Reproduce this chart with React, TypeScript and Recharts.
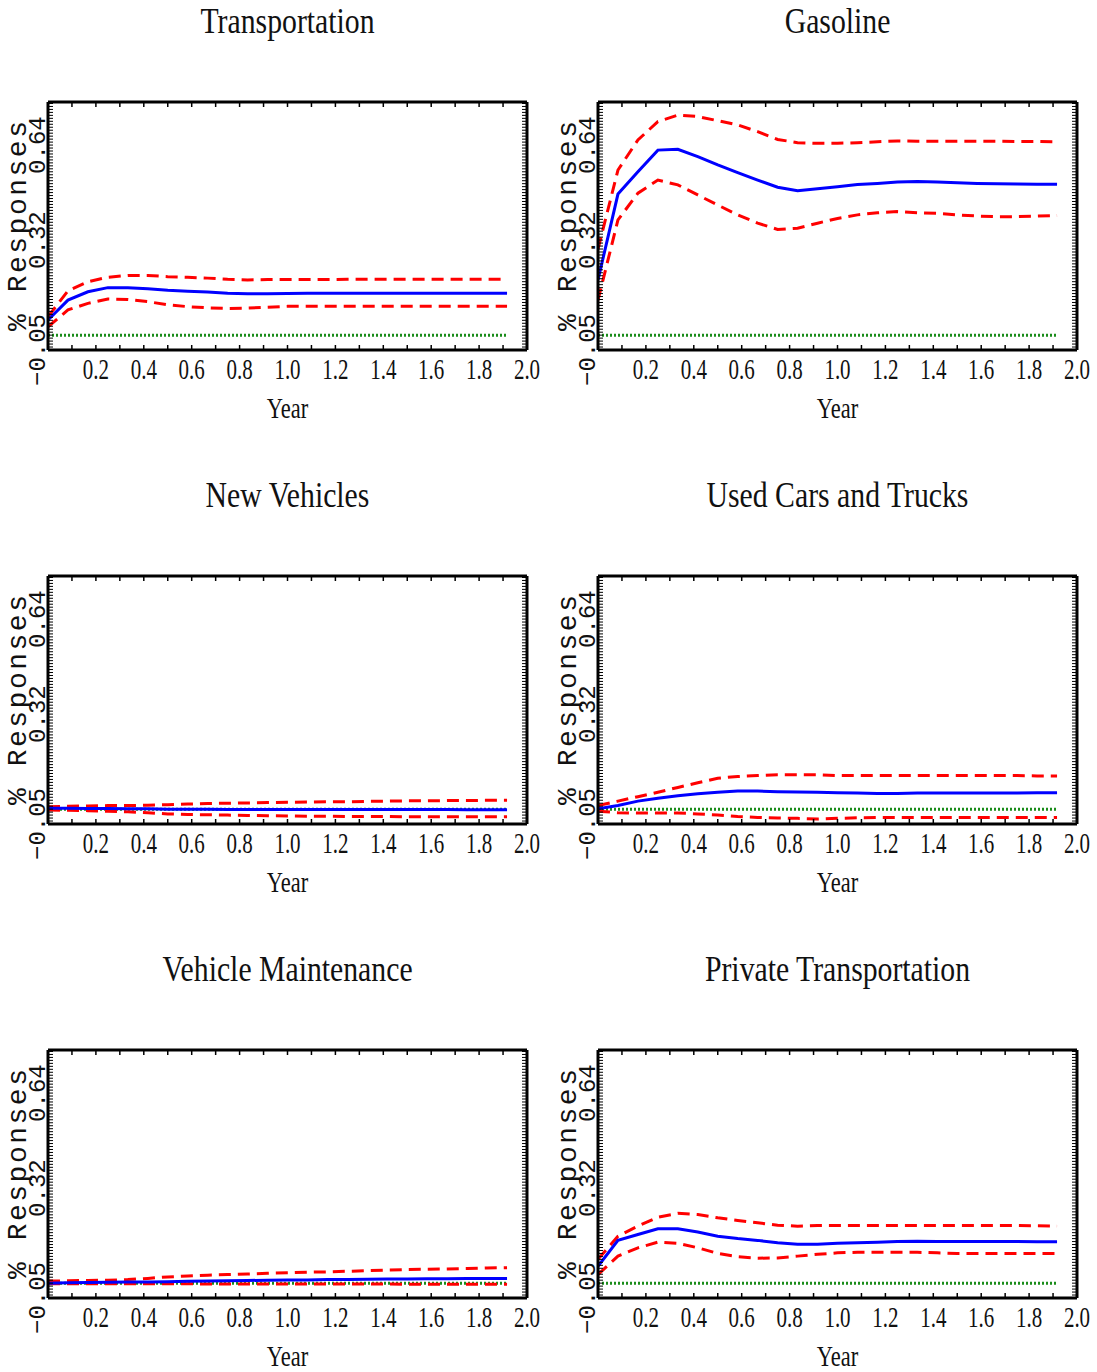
import React from "react";
import { LineChart, Line, XAxis, YAxis } from "recharts";

// months after the shock, plotted as years (m / 12)
const MONTHS = [0, 1, 2, 3, 4, 5, 6, 7, 8, 9, 10, 11, 12, 13, 14, 15, 16, 17, 18, 19, 20, 21, 22, 23];

const TRANSPORT_IRF = [0.051, 0.118, 0.146, 0.16, 0.16, 0.156, 0.151, 0.148, 0.145, 0.141, 0.139, 0.139, 0.14, 0.141, 0.141, 0.141, 0.141, 0.141, 0.141, 0.141, 0.141, 0.141, 0.141, 0.141];
const TRANSPORT_UPPER = [0.062, 0.149, 0.18, 0.195, 0.201, 0.201, 0.197, 0.195, 0.192, 0.188, 0.186, 0.187, 0.187, 0.187, 0.187, 0.188, 0.188, 0.188, 0.188, 0.188, 0.188, 0.188, 0.188, 0.188];
const TRANSPORT_LOWER = [0.028, 0.085, 0.107, 0.122, 0.12, 0.113, 0.102, 0.096, 0.092, 0.09, 0.091, 0.094, 0.097, 0.097, 0.097, 0.097, 0.097, 0.097, 0.097, 0.097, 0.097, 0.097, 0.097, 0.097];

const GASOLINE_IRF = [0.186, 0.475, 0.55, 0.623, 0.626, 0.601, 0.573, 0.547, 0.522, 0.498, 0.486, 0.493, 0.5, 0.507, 0.511, 0.516, 0.517, 0.516, 0.513, 0.511, 0.51, 0.509, 0.508, 0.508];
const GASOLINE_UPPER = [0.29, 0.556, 0.657, 0.719, 0.741, 0.736, 0.722, 0.708, 0.685, 0.659, 0.648, 0.646, 0.646, 0.648, 0.651, 0.654, 0.653, 0.653, 0.653, 0.653, 0.653, 0.652, 0.652, 0.651];
const GASOLINE_LOWER = [0.118, 0.388, 0.478, 0.522, 0.506, 0.472, 0.438, 0.405, 0.377, 0.356, 0.36, 0.377, 0.393, 0.405, 0.412, 0.416, 0.412, 0.41, 0.405, 0.401, 0.399, 0.399, 0.401, 0.403];

const NEWVEH_IRF = [0.003, 0.003, 0.002, 0.002, 0.001, 0.001, 0.0, 0.0, 0.0, -0.001, -0.001, -0.001, -0.001, -0.001, -0.001, -0.001, -0.001, -0.001, -0.001, -0.001, -0.001, -0.002, -0.002, -0.002];
const NEWVEH_UPPER = [0.008, 0.01, 0.011, 0.012, 0.012, 0.013, 0.015, 0.017, 0.019, 0.02, 0.021, 0.022, 0.023, 0.024, 0.025, 0.025, 0.026, 0.027, 0.028, 0.028, 0.029, 0.029, 0.03, 0.03];
const NEWVEH_LOWER = [-0.003, -0.004, -0.005, -0.007, -0.009, -0.012, -0.016, -0.018, -0.019, -0.02, -0.021, -0.022, -0.023, -0.024, -0.024, -0.025, -0.025, -0.025, -0.026, -0.026, -0.026, -0.026, -0.026, -0.026];

const USED_IRF = [0.001, 0.012, 0.027, 0.037, 0.045, 0.052, 0.057, 0.061, 0.061, 0.059, 0.058, 0.057, 0.055, 0.054, 0.053, 0.053, 0.054, 0.054, 0.054, 0.054, 0.054, 0.054, 0.055, 0.055];
const USED_UPPER = [0.012, 0.027, 0.042, 0.057, 0.073, 0.089, 0.104, 0.11, 0.113, 0.116, 0.116, 0.116, 0.113, 0.113, 0.113, 0.113, 0.113, 0.113, 0.113, 0.113, 0.113, 0.113, 0.112, 0.112];
const USED_LOWER = [-0.007, -0.012, -0.013, -0.013, -0.013, -0.016, -0.02, -0.025, -0.028, -0.03, -0.031, -0.033, -0.031, -0.029, -0.028, -0.028, -0.028, -0.028, -0.028, -0.028, -0.028, -0.028, -0.028, -0.028];

const MAINT_IRF = [0.0, 0.001, 0.002, 0.003, 0.004, 0.004, 0.005, 0.006, 0.007, 0.008, 0.009, 0.01, 0.011, 0.011, 0.012, 0.012, 0.013, 0.014, 0.014, 0.015, 0.015, 0.016, 0.016, 0.016];
const MAINT_UPPER = [0.007, 0.008, 0.009, 0.01, 0.012, 0.016, 0.021, 0.024, 0.027, 0.029, 0.031, 0.033, 0.035, 0.037, 0.038, 0.04, 0.042, 0.044, 0.046, 0.047, 0.048, 0.049, 0.051, 0.052];
const MAINT_LOWER = [-0.002, -0.002, -0.002, -0.002, -0.002, -0.002, -0.002, -0.002, -0.003, -0.003, -0.003, -0.003, -0.003, -0.003, -0.003, -0.003, -0.003, -0.003, -0.004, -0.004, -0.004, -0.004, -0.004, -0.004];

const PRIVATE_IRF = [0.057, 0.144, 0.164, 0.183, 0.183, 0.172, 0.158, 0.15, 0.144, 0.136, 0.131, 0.131, 0.134, 0.136, 0.138, 0.14, 0.141, 0.14, 0.14, 0.14, 0.14, 0.14, 0.139, 0.139];
const PRIVATE_UPPER = [0.08, 0.158, 0.192, 0.222, 0.235, 0.231, 0.22, 0.211, 0.203, 0.195, 0.192, 0.194, 0.194, 0.194, 0.194, 0.194, 0.194, 0.194, 0.194, 0.194, 0.194, 0.194, 0.193, 0.192];
const PRIVATE_LOWER = [0.029, 0.091, 0.119, 0.138, 0.134, 0.119, 0.1, 0.089, 0.084, 0.085, 0.091, 0.097, 0.102, 0.104, 0.104, 0.104, 0.104, 0.102, 0.1, 0.1, 0.1, 0.1, 0.1, 0.1];

const X_TICKS = [0.2, 0.4, 0.6, 0.8, 1.0, 1.2, 1.4, 1.6, 1.8, 2.0];
const X_TICK_LABELS = ["0.2", "0.4", "0.6", "0.8", "1.0", "1.2", "1.4", "1.6", "1.8", "2.0"];
const X_MINOR = [0.1, 0.2, 0.3, 0.4, 0.5, 0.6, 0.7, 0.8, 0.9, 1.0, 1.1, 1.2, 1.3, 1.4, 1.5, 1.6, 1.7, 1.8, 1.9];
const Y_TICKS = [-0.05, 0.32, 0.64];
const Y_TICK_LABELS = ["\u22120.05", "0.32", "0.64"];
const Y_DOMAIN = [-0.05, 0.785];
const Y_MINOR = Array.from({ length: 83 }, (_, i) => Math.round((-0.04 + i * 0.01) * 1000) / 1000);

const SERIF = "'Liberation Serif', 'DejaVu Serif', serif";
const MONO = "'Liberation Mono', 'DejaVu Sans Mono', monospace";

const build = (irf: number[], upper: number[], lower: number[]) =>
  MONTHS.map((m, i) => ({ year: m / 12, irf: irf[i], upper: upper[i], lower: lower[i], zero: 0 }));

const PANELS = [
  { title: "Transportation", data: build(TRANSPORT_IRF, TRANSPORT_UPPER, TRANSPORT_LOWER), col: 0, row: 0 },
  { title: "Gasoline", data: build(GASOLINE_IRF, GASOLINE_UPPER, GASOLINE_LOWER), col: 1, row: 0 },
  { title: "New Vehicles", data: build(NEWVEH_IRF, NEWVEH_UPPER, NEWVEH_LOWER), col: 0, row: 1 },
  { title: "Used Cars and Trucks", data: build(USED_IRF, USED_UPPER, USED_LOWER), col: 1, row: 1 },
  { title: "Vehicle Maintenance", data: build(MAINT_IRF, MAINT_UPPER, MAINT_LOWER), col: 0, row: 2 },
  { title: "Private Transportation", data: build(PRIVATE_IRF, PRIVATE_UPPER, PRIVATE_LOWER), col: 1, row: 2 },
];

const EmptyTick = () => <g />;

const XTick = (props: any) => {
  const { x, y, payload } = props;
  const idx = X_TICKS.indexOf(payload.value);
  return (
    <text transform={`translate(${x},${y + 29}) scale(0.7,1)`} textAnchor="middle" fontFamily={SERIF} fontSize={30} fill="#111">
      {X_TICK_LABELS[idx] ?? ""}
    </text>
  );
};

const YTick = (props: any) => {
  const { x, y, payload } = props;
  const idx = Y_TICKS.indexOf(payload.value);
  return (
    <text x={x} y={y} transform={`rotate(-90 ${x} ${y})`} textAnchor="middle" fontFamily={MONO} fontSize={24} fill="#111">
      {Y_TICK_LABELS[idx] ?? ""}
    </text>
  );
};

const YearLabel = (props: any) => {
  const vb = props.viewBox;
  return (
    <text transform={`translate(${vb.x + vb.width / 2},${vb.y + 68}) scale(0.75,1)`} textAnchor="middle" fontFamily={SERIF} fontSize={30} fill="#111">
      Year
    </text>
  );
};

const ResponseLabel = (props: any) => {
  const vb = props.viewBox;
  const bx = vb.x + vb.width - 22;
  const cy = vb.y + vb.height / 2;
  return (
    <text x={bx} y={cy} transform={`rotate(-90 ${bx} ${cy})`} textAnchor="middle" fontFamily={MONO} fontSize={28} textLength={210} lengthAdjust="spacing" fill="#111">
      % Responses
    </text>
  );
};

const Panel = ({ title, data, left, top, width }: any) => {
  const plotRight = 527;
  return (
    <div style={{ position: "absolute", left, top, width, height: 440 }}>
      <svg width={width} height={60} style={{ position: "absolute", left: 0, top: 0 }}>
        <text transform={`translate(${(48 + plotRight) / 2},33) scale(0.85,1)`} textAnchor="middle" fontFamily={SERIF} fontSize={35} fill="#111">
          {title}
        </text>
      </svg>
      <LineChart width={width} height={440} data={data} margin={{ top: 102, right: width - plotRight, bottom: 16, left: 0 }}>
        <XAxis
          xAxisId="main"
          type="number"
          dataKey="year"
          domain={[0, 2]}
          ticks={X_TICKS}
          interval={0}
          tick={<XTick />}
          tickLine={false}
          tickSize={0}
          tickMargin={0}
          axisLine={{ stroke: "#000", strokeWidth: 3 }}
          height={74}
          allowDataOverflow
          label={<YearLabel />}
        />
        <XAxis xAxisId="bottomTicks" dataKey="year" type="number" orientation="bottom" mirror domain={[0, 2]} allowDataOverflow ticks={X_MINOR} interval={0} tick={<EmptyTick />} tickSize={5} tickLine={{ stroke: "#000", strokeWidth: 1.5 }} axisLine={false} />
        <XAxis xAxisId="topTicks" dataKey="year" type="number" orientation="top" mirror domain={[0, 2]} allowDataOverflow ticks={X_MINOR} interval={0} tick={<EmptyTick />} tickSize={5} tickLine={{ stroke: "#000", strokeWidth: 1.5 }} axisLine={{ stroke: "#000", strokeWidth: 3 }} />
        <YAxis
          yAxisId="main"
          type="number"
          domain={Y_DOMAIN}
          ticks={Y_TICKS}
          interval={0}
          tick={<YTick />}
          tickLine={false}
          tickSize={0}
          tickMargin={3}
          width={48}
          axisLine={{ stroke: "#000", strokeWidth: 3 }}
          allowDataOverflow
          label={<ResponseLabel />}
        />
        <YAxis yAxisId="leftTicks" dataKey="irf" type="number" orientation="left" mirror domain={Y_DOMAIN} ticks={Y_MINOR} interval={0} tick={<EmptyTick />} tickSize={5} tickLine={{ stroke: "#000", strokeWidth: 1 }} axisLine={false} allowDataOverflow />
        <YAxis yAxisId="rightTicks" dataKey="irf" type="number" orientation="right" mirror domain={Y_DOMAIN} ticks={Y_MINOR} interval={0} tick={<EmptyTick />} tickSize={5} tickLine={{ stroke: "#000", strokeWidth: 1 }} axisLine={{ stroke: "#000", strokeWidth: 3 }} allowDataOverflow />
        <Line xAxisId="main" yAxisId="main" dataKey="zero" stroke="#1a8c1a" strokeWidth={3} strokeDasharray="2 2" dot={false} isAnimationActive={false} />
        <Line xAxisId="main" yAxisId="main" dataKey="upper" stroke="#ff0000" strokeWidth={3} strokeDasharray="12 7" dot={false} isAnimationActive={false} type="linear" />
        <Line xAxisId="main" yAxisId="main" dataKey="lower" stroke="#ff0000" strokeWidth={3} strokeDasharray="12 7" dot={false} isAnimationActive={false} type="linear" />
        <Line xAxisId="main" yAxisId="main" dataKey="irf" stroke="#0000ff" strokeWidth={3} dot={false} isAnimationActive={false} type="linear" />
      </LineChart>
    </div>
  );
}

export default function App() {
  return (
    <div style={{ position: "absolute", left: 0, top: 0, width: 1097, height: 1372, overflow: "hidden", background: "#fff" }}>
      {PANELS.map((p) => (
        <Panel
          key={p.title}
          title={p.title}
          data={p.data}
          left={p.col === 0 ? 0 : 550}
          top={p.row * 474}
          width={p.col === 0 ? 550 : 540}
        />
      ))}
    </div>
  );
}
